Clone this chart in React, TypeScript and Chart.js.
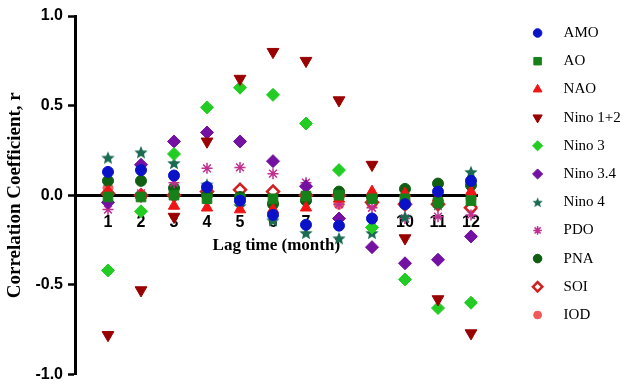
import React, { useEffect, useRef } from 'react';
import { Chart, registerables } from 'chart.js';
import { drawPoint } from 'chart.js/helpers';

Chart.register(...registerables);

const months = [1, 2, 3, 4, 5, 6, 7, 8, 9, 10, 11, 12];
const seriesNames = ['AMO', 'AO', 'NAO', 'Nino 1+2', 'Nino 3', 'Nino 3.4', 'Nino 4', 'PDO', 'PNA', 'SOI', 'IOD'];
const amo = [0.13, 0.14, 0.11, 0.045, -0.03, -0.11, -0.165, -0.17, -0.13, -0.05, 0.02, 0.08];
const ao = [-0.01, -0.01, 0.0, -0.02, -0.02, -0.02, -0.005, 0.0, -0.02, -0.02, -0.04, -0.03];
const nao = [0.02, 0.0, -0.06, -0.07, -0.08, -0.08, -0.07, -0.02, 0.02, 0.01, -0.015, 0.02];
const nino12 = [-0.78, -0.53, -0.12, 0.3, 0.65, 0.8, 0.75, 0.53, 0.17, -0.24, -0.58, -0.77];
const nino3 = [-0.42, -0.09, 0.23, 0.49, 0.6, 0.56, 0.4, 0.14, -0.18, -0.47, -0.63, -0.6];
const nino34 = [-0.04, 0.17, 0.3, 0.35, 0.3, 0.19, 0.05, -0.13, -0.29, -0.38, -0.36, -0.23];
const nino4 = [0.21, 0.24, 0.18, 0.06, -0.06, -0.14, -0.21, -0.24, -0.21, -0.12, -0.05, 0.13];
const pdo = [-0.08, 0.01, 0.07, 0.15, 0.155, 0.12, 0.07, -0.05, -0.07, -0.13, -0.12, -0.11];
const pna = [0.08, 0.08, 0.04, 0.0, -0.01, -0.05, -0.03, 0.02, -0.01, 0.035, 0.065, 0.055];
const soi = [0.01, 0.0, 0.0, 0.02, 0.03, 0.02, 0.0, 0.0, -0.04, -0.05, -0.05, -0.07];
const iod = [0.04, 0.0, 0.0, 0.0, -0.01, -0.04, -0.03, -0.05, -0.05, -0.03, -0.03, -0.02];
const yTicks = [-1, -0.5, 0, 0.5, 1];

function makeStar(size: number, color: string) {
  const c = document.createElement('canvas');
  c.width = size;
  c.height = size;
  const g = c.getContext('2d')!;
  g.fillStyle = color;
  g.beginPath();
  const cx = size / 2, cy = size / 2 + size * 0.05, R = size / 2, r = R * 0.45;
  for (let k = 0; k < 10; k++) {
    const a = -Math.PI / 2 + (k * Math.PI) / 5;
    const rr = k % 2 ? r : R;
    g.lineTo(cx + rr * Math.cos(a), cy + rr * Math.sin(a));
  }
  g.closePath();
  g.fill();
  return c;
}

const sideLegend = {
  id: 'sideLegend',
  afterDraw(chart: any) {
    const ctx = chart.ctx;
    const x0 = chart.chartArea.right + 60;
    chart.data.datasets.forEach((ds: any, i: number) => {
      const y = 33 + i * 28.2;
      ctx.save();
      ctx.fillStyle = ds.backgroundColor;
      ctx.strokeStyle = ds.borderColor;
      ctx.lineWidth = ds.borderWidth;
      if (ds.legendImage) {
        ctx.drawImage(ds.legendImage, x0 - 5.5, y - 5.5, 11, 11);
      } else {
        drawPoint(ctx, {
          pointStyle: ds.pointStyle,
          rotation: ds.pointRotation || 0,
          radius: ds.pointRadius * 0.78,
          borderWidth: ds.borderWidth,
        } as any, x0, y);
      }
      ctx.fillStyle = '#000';
      ctx.font = '15px "Liberation Serif", "Times New Roman", serif';
      ctx.textBaseline = 'middle';
      ctx.textAlign = 'left';
      ctx.fillText(ds.label, x0 + 26, y);
      ctx.restore();
    });
  },
};

export default function App() {
  const ref = useRef<HTMLCanvasElement | null>(null);

  useEffect(() => {
    document.body.style.margin = '0';
    const star = makeStar(14, '#1b6b52');
    const mk = (arr: number[]) => months.map((m, i) => ({ x: m, y: arr[i] }));
    const styles: any[] = [
      { data: amo, pointStyle: 'circle', pointRadius: 5.5, backgroundColor: '#0a12c8', borderColor: '#0a12c8', borderWidth: 1 },
      { data: ao, pointStyle: 'rect', pointRadius: 6.8, backgroundColor: '#168019', borderColor: '#168019', borderWidth: 1 },
      { data: nao, pointStyle: 'triangle', pointRadius: 6.5, backgroundColor: '#f01414', borderColor: '#f01414', borderWidth: 1 },
      { data: nino12, pointStyle: 'triangle', pointRotation: 180, pointRadius: 6.8, backgroundColor: '#990000', borderColor: '#990000', borderWidth: 1 },
      { data: nino3, pointStyle: 'rectRot', pointRadius: 6.5, backgroundColor: '#22cc22', borderColor: '#22cc22', borderWidth: 1 },
      { data: nino34, pointStyle: 'rectRot', pointRadius: 6.5, backgroundColor: '#7411a2', borderColor: '#7411a2', borderWidth: 1 },
      { data: nino4, pointStyle: star, legendImage: star, pointRadius: 7, backgroundColor: '#1b6b52', borderColor: '#1b6b52', borderWidth: 1 },
      { data: pdo, pointStyle: 'star', pointRadius: 5.5, backgroundColor: '#c0308f', borderColor: '#c0308f', borderWidth: 1.5 },
      { data: pna, pointStyle: 'circle', pointRadius: 5.5, backgroundColor: '#0f5e12', borderColor: '#0f5e12', borderWidth: 1 },
      { data: soi, pointStyle: 'rectRot', pointRadius: 6, backgroundColor: '#ffffff', borderColor: '#d02020', borderWidth: 2.5 },
      { data: iod, pointStyle: 'circle', pointRadius: 5, backgroundColor: '#f05a5a', borderColor: '#f05a5a', borderWidth: 1 },
    ];
    const datasets = styles.map((s, i) => ({
      ...s,
      label: seriesNames[i],
      data: mk(s.data),
      showLine: false,
      pointHoverRadius: s.pointRadius,
    }));

    const chart = new Chart(ref.current!, {
      type: 'scatter',
      data: { datasets },
      plugins: [sideLegend],
      options: {
        animation: false,
        responsive: false,
        layout: { padding: { left: 0, top: 16, right: 149.4, bottom: 11 } },
        plugins: { legend: { display: false }, tooltip: { enabled: false } },
        scales: {
          y: {
            type: 'linear',
            position: 'left',
            min: -1,
            max: 1,
            afterBuildTicks: (s: any) => { s.ticks = yTicks.map((v) => ({ value: v })); },
            ticks: {
              callback: (v: any) => Number(v).toFixed(1),
              color: '#000',
              font: { family: '"Liberation Sans", Arial, sans-serif', size: 16, weight: 'bold' },
              padding: 5,
            },
            grid: { display: true, drawOnChartArea: false, drawTicks: true, tickLength: 7, tickWidth: 2.5, tickColor: '#000', color: '#000' },
            border: { display: true, color: '#000', width: 3 },
            title: {
              display: true,
              text: 'Correlation Coefficient, r',
              color: '#000',
              font: { family: '"Liberation Serif", "Times New Roman", serif', size: 19, weight: 'bold' },
              padding: { top: 4, bottom: 0 },
            },
            afterFit: (s: any) => { s.width = 75; },
          },
          x: {
            type: 'linear',
            position: { y: 0 } as any,
            min: 0,
            max: 12.2,
            afterBuildTicks: (s: any) => { s.ticks = months.map((v) => ({ value: v })); },
            ticks: {
              callback: (v: any) => String(v),
              color: '#000',
              font: { family: '"Liberation Sans", Arial, sans-serif', size: 16, weight: 'bold' },
              padding: 10,
              autoSkip: false,
              maxRotation: 0,
            },
            grid: { display: false },
            border: { display: true, color: '#000', width: 3 },
            title: {
              display: true,
              text: 'Lag time (month)',
              color: '#000',
              font: { family: '"Liberation Serif", "Times New Roman", serif', size: 17, weight: 'bold' },
              padding: { top: -7, bottom: 0 },
            },
          },
        },
      } as any,
    });
    return () => chart.destroy();
  }, []);

  return (
    <div style={{ width: 627, height: 389 }}>
      <canvas ref={ref} width={627} height={389} style={{ display: 'block' }} />
    </div>
  );
}
